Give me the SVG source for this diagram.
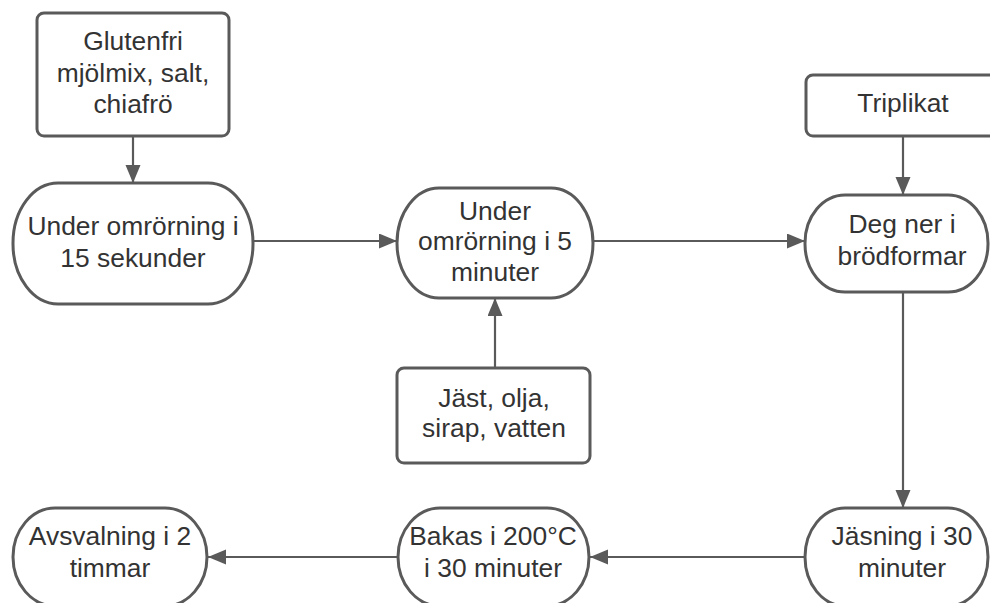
<svg xmlns="http://www.w3.org/2000/svg" width="990" height="603" viewBox="0 0 990 603">
<defs>
<style>
.box{fill:#fff;stroke:#5a5a5a;stroke-width:3}
.t{font-family:"Liberation Sans",Arial,sans-serif;font-size:26.4px;fill:#333;text-anchor:middle}
.c{stroke:#5a5a5a;stroke-width:2.2;fill:none;marker-end:url(#ah)}
</style>
<marker id="ah" markerUnits="userSpaceOnUse" markerWidth="20" markerHeight="16" refX="18" refY="7.5" orient="auto">
<path d="M0,0 L18,7.5 L0,15 z" fill="#5a5a5a"/>
</marker>
</defs>
<rect width="990" height="603" fill="#fff"/>
<g id="connectors">
<line class="c" x1="133" y1="136" x2="133" y2="183"/>
<line class="c" x1="253" y1="241" x2="397" y2="241"/>
<line class="c" x1="593" y1="241" x2="805" y2="241"/>
<line class="c" x1="903" y1="136" x2="903" y2="195"/>
<line class="c" x1="495" y1="368" x2="495" y2="298"/>
<line class="c" x1="903" y1="292" x2="903" y2="508"/>
<line class="c" x1="805" y1="557" x2="590" y2="557"/>
<line class="c" x1="398" y1="557" x2="208" y2="557"/>
</g>
<g id="n1">
<rect class="box" x="37" y="13" width="192" height="123" rx="7"/>
<text class="t" x="133" y="50">Glutenfri</text>
<text class="t" x="133" y="82">mjölmix, salt,</text>
<text class="t" x="133" y="113">chiafrö</text>
</g>
<g id="n2">
<rect class="box" x="13" y="183" width="240" height="121" rx="45" ry="60"/>
<text class="t" x="133" y="235">Under omrörning i</text>
<text class="t" x="133" y="267">15 sekunder</text>
</g>
<g id="n3">
<rect class="box" x="397" y="188" width="196" height="110" rx="42" ry="55"/>
<text class="t" x="495" y="220">Under</text>
<text class="t" x="495" y="250">omrörning i 5</text>
<text class="t" x="495" y="281">minuter</text>
</g>
<g id="n4">
<rect class="box" x="806" y="75" width="194" height="61" rx="7"/>
<text class="t" x="903" y="112">Triplikat</text>
</g>
<g id="n5">
<rect class="box" x="805" y="195" width="183" height="97" rx="40" ry="48"/>
<text class="t" x="902" y="233">Deg ner i</text>
<text class="t" x="902" y="265">brödformar</text>
</g>
<g id="n6">
<rect class="box" x="397" y="368" width="193" height="95" rx="7"/>
<text class="t" x="494" y="407">Jäst, olja,</text>
<text class="t" x="494" y="437">sirap, vatten</text>
</g>
<g id="n7">
<rect class="box" x="805" y="508" width="183" height="98" rx="40" ry="49"/>
<text class="t" x="902" y="545">Jäsning i 30</text>
<text class="t" x="902" y="577">minuter</text>
</g>
<g id="n8">
<rect class="box" x="398" y="508" width="191" height="98" rx="42" ry="49"/>
<text class="t" x="493" y="545">Bakas i 200°C</text>
<text class="t" x="493" y="577">i 30 minuter</text>
</g>
<g id="n9">
<rect class="box" x="13" y="508" width="194" height="98" rx="42" ry="49"/>
<text class="t" x="110" y="545">Avsvalning i 2</text>
<text class="t" x="110" y="577">timmar</text>
</g>
</svg>
